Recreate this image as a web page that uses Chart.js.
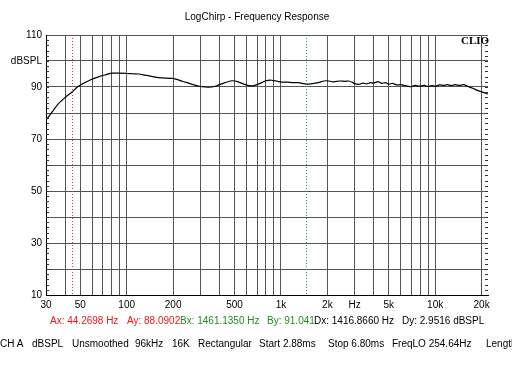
<!doctype html>
<html>
<head>
<title>LogChirp - Frequency Response</title>
<script src="https://cdn.jsdelivr.net/npm/chart.js@4"></script>
<style>
  body { margin: 0; background: #fff; }
  #wrap { position: relative; width: 512px; height: 384px; font-family: "Liberation Sans", Arial, sans-serif; font-size: 10px; }
  #wrap span { position: absolute; white-space: nowrap; }
  .red { color: #e8171b; }
  .grn { color: #1e8c1e; }
</style>
</head>
<body>
<div id="wrap">
  <canvas id="kiht" width="512" height="384"></canvas>
  <span style="left:0;width:514px;text-align:center;top:11px">LogChirp - Frequency Response</span>
  <span style="left:461px;top:34px;font-family:'Liberation Serif',serif;font-weight:bold;font-size:11px">CLIO</span>
  <span class="red" style="left:50px;top:315px">Ax: 44.2698 Hz</span>
  <span class="red" style="left:127px;top:315px">Ay: 88.0902</span>
  <span class="grn" style="left:180px;top:315px">Bx: 1461.1350 Hz</span>
  <span class="grn" style="left:267px;top:315px">By: 91.041</span>
  <span style="left:314px;top:315px">Dx: 1416.8660 Hz</span>
  <span style="left:402px;top:315px">Dy: 2.9516 dBSPL</span>
  <span style="left:0;top:338px">CH A</span>
  <span style="left:32px;top:338px">dBSPL</span>
  <span style="left:72px;top:338px">Unsmoothed</span>
  <span style="left:135px;top:338px">96kHz</span>
  <span style="left:172px;top:338px">16K</span>
  <span style="left:198px;top:338px">Rectangular</span>
  <span style="left:259px;top:338px">Start 2.88ms</span>
  <span style="left:328px;top:338px">Stop 6.80ms</span>
  <span style="left:392px;top:338px">FreqLO 254.64Hz</span>
  <span style="left:486px;top:338px">Length</span>
</div>
<script>
// mõõdetud kõver (Hz, dBSPL)
let sagedused = [30,33,36,40,44.27,48,53,58,65,72,80,90,100,110,120,130,140,153,170,200,
  230,270,300,340,380,430,480,530,580,650,720,800,870,950,1000,1100,1200,1300,1461,1600,
  1750,1900,2000,2200,2400,2600,2750,2900,3000,3200,3400,3600,3800,4000,4250,4500,4750,5000,
  5300,5600,6000,6400,6900,7400,7900,8500,9000,9500,10000,10700,11300,12000,12700,13500,
  14300,15300,16300,17500,18800,20000,22000];
let tase = [77.3,80.5,83.5,86,88.1,90,91.5,92.7,93.8,94.6,95.3,95.3,95.2,95.1,95.0,94.6,94.3,93.8,93.5,93.3,
  92.2,90.9,90.2,89.9,90.4,91.6,92.4,92.0,91.0,90.4,91.2,92.4,92.6,92.2,91.9,91.9,91.7,91.7,91.1,91.3,
  91.7,92.3,92.4,92.0,92.3,92.2,92.3,91.8,91.3,91.0,91.5,91.2,91.7,91.5,92.1,91.4,91.7,91.1,
  91.4,90.8,90.9,90.5,90.1,90.6,90.3,90.6,90.2,90.5,90.3,90.8,90.6,90.9,90.5,90.9,
  90.6,90.9,90.2,89.5,88.7,88.1,87.3];
let xJooned = [30,40,50,60,70,80,90,100,200,300,400,500,600,700,800,900,1000,2000,3000,4000,5000,6000,7000,8000,9000,10000,20000];
let xSildid = {30:'30',50:'50',100:'100',200:'200',500:'500',1000:'1k',2000:'2k',3000:'Hz',5000:'5k',10000:'10k',20000:'20k'};
let ySildid = {10:'10',30:'30',50:'50',70:'70',90:'90',100:'dBSPL',110:'110'};
let markerA = 44.2698, markerB = 1461.135;

let lisad = {
  id: 'lisad',
  afterDatasetsDraw(chart) {
    let c = chart.ctx, a = chart.chartArea, x = chart.scales.x, y = chart.scales.y;
    c.save();
    c.lineWidth = 1;
    c.setLineDash([1, 2]);
    [[markerA, '#e0303a'], [markerB, '#3aa03a']].forEach(m => {
      let px = Math.round(x.getPixelForValue(m[0])) + 0.5;
      c.strokeStyle = m[1];
      c.beginPath(); c.moveTo(px, a.top); c.lineTo(px, a.bottom); c.stroke();
    });
    c.setLineDash([]);
    c.strokeStyle = '#333';
    for (let v = 12; v < 110; v += 2) {
      let py = Math.round(y.getPixelForValue(v)) + 0.5;
      c.beginPath();
      c.moveTo(a.left, py); c.lineTo(a.left + 3, py);
      c.moveTo(a.right - 3, py); c.lineTo(a.right, py);
      c.stroke();
    }
    c.restore();
  }
};

new Chart(document.getElementById('kiht'), {
  type: 'line',
  data: {
    datasets: [{
      data: sagedused.map((f, i) => ({x: f, y: tase[i]})),
      borderColor: '#000',
      borderWidth: 1.2,
      pointRadius: 0,
      tension: 0.2
    }]
  },
  options: {
    responsive: false,
    animation: false,
    layout: {padding: {top: 35, right: 24, left: 0, bottom: 0}},
    plugins: {legend: {display: false}, tooltip: {enabled: false}, title: {display: false}},
    scales: {
      x: {
        type: 'logarithmic', min: 30, max: 22000,
        afterBuildTicks: s => { s.ticks = xJooned.map(v => ({value: v})); },
        afterFit: s => { s.height = 89; },
        ticks: {
          autoSkip: false, maxRotation: 0, padding: 4, color: '#000',
          font: {family: 'Liberation Sans', size: 10},
          callback: v => xSildid[v] || ''
        },
        grid: {color: '#555', drawTicks: false},
        border: {color: '#000', width: 1}
      },
      y: {
        min: 10, max: 110,
        afterBuildTicks: s => { s.ticks = []; for (let v = 10; v <= 110; v += 10) s.ticks.push({value: v}); },
        afterFit: s => { s.width = 46; },
        ticks: {
          autoSkip: false, padding: 4, color: '#000',
          font: {family: 'Liberation Sans', size: 10},
          callback: v => ySildid[v] || ''
        },
        grid: {color: '#555', drawTicks: false},
        border: {color: '#000', width: 1}
      }
    }
  },
  plugins: [lisad]
});
</script>
</body>
</html>
